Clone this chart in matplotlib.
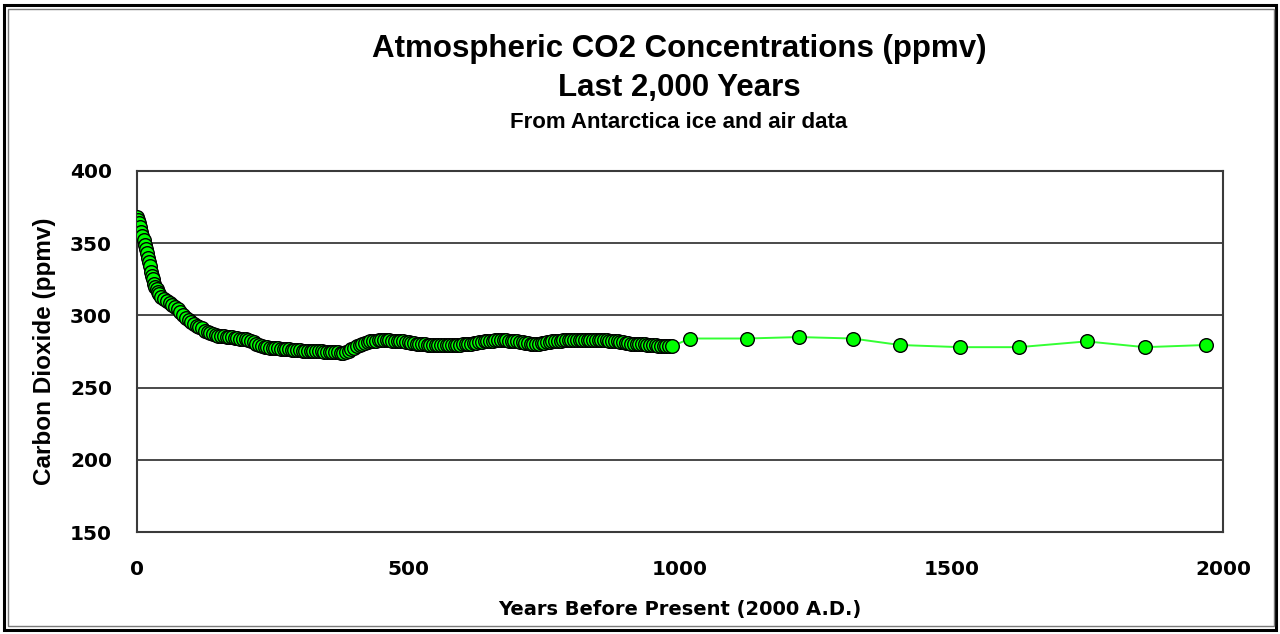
import matplotlib
matplotlib.use("Agg")
import matplotlib.pyplot as plt
from matplotlib.patches import Rectangle

# ---- data ----
years_ice = [
    0, 2, 4, 6, 8, 10, 12, 14, 16, 18, 20, 22, 24, 26, 28, 30, 32, 34, 36, 38, 40,
    45, 50, 55, 60, 65, 70, 75, 80, 85, 90, 95,
    100, 105, 110, 115, 120, 125, 130, 135, 140, 145, 150, 155, 160, 165, 170, 175, 180, 185, 190, 195,
    200, 205, 210, 215, 220, 225, 230, 235, 240, 245, 250, 255, 260, 265, 270, 275, 280, 285, 290, 295,
    300, 305, 310, 315, 320, 325, 330, 335, 340, 345, 350, 355, 360, 365, 370, 375, 380, 385, 390, 395,
    400, 405, 410, 415, 420, 425, 430, 435, 440, 445, 450, 455, 460, 465, 470, 475, 480, 485, 490, 495,
    500, 505, 510, 515, 520, 525, 530, 535, 540, 545, 550, 555, 560, 565, 570, 575, 580, 585, 590, 595,
    600, 605, 610, 615, 620, 625, 630, 635, 640, 645, 650, 655, 660, 665, 670, 675, 680, 685, 690, 695,
    700, 705, 710, 715, 720, 725, 730, 735, 740, 745, 750, 755, 760, 765, 770, 775, 780, 785, 790, 795,
    800, 805, 810, 815, 820, 825, 830, 835, 840, 845, 850, 855, 860, 865, 870, 875, 880, 885, 890, 895,
    900, 905, 910, 915, 920, 925, 930, 935, 940, 945, 950, 955, 960, 965, 970, 975, 980, 985]
co2_ice = [
    368, 366, 364, 361, 358, 355, 352, 349, 346, 343, 340, 337, 334, 330, 327, 325, 322, 320, 318, 316, 315,
    313, 311.5, 310, 308.5, 307.5, 306, 304.5, 302.5, 300.5, 298.5, 297,
    295.5, 294, 293, 292, 291, 289.5, 288.5, 288, 287, 286.5, 286, 285.5, 285.5, 285, 285, 285, 284.5, 284.5, 284, 284,
    283.5, 283, 282.5, 281.5, 280.5, 279.5, 278.5, 278, 278, 277.5, 277.5, 277.5, 277.5, 277, 277, 276.5, 276.5, 276, 276, 276,
    276, 275.5, 275.5, 275.5, 275.5, 275.5, 275.5, 275.5, 275.5, 275, 275, 275, 275, 274.5, 274.5, 274, 274, 274.5, 275.5, 276.5,
    277.5, 278.5, 279.5, 280.5, 281, 281.5, 282, 282.5, 282.5, 283, 283, 283, 283, 283, 282.5, 282.5, 282, 282, 282, 281.5,
    281.5, 281, 281, 280.5, 280.5, 280, 280, 279.5, 279.5, 279.5, 279.5, 279.5, 279.5, 279.5, 279.5, 279.5, 279.5, 279.5, 279.5, 279.5,
    280, 280, 280.5, 280.5, 281, 281, 281.5, 281.5, 282, 282, 282.5, 282.5, 283, 283, 283, 283, 283, 282.5, 282.5, 282,
    282, 281.5, 281.5, 281, 281, 280.5, 280.5, 280.5, 280.5, 281, 281, 281.5, 281.5, 282, 282, 282.5, 282.5, 283, 283, 283,
    283, 283, 283, 283, 283, 283, 283, 283, 283, 283, 283, 283, 283, 283, 282.5, 282.5, 282, 282, 281.5, 281.5,
    281, 281, 280.5, 280.5, 280, 280, 280, 280, 279.5, 279.5, 279.5, 279.5, 279, 279, 279, 279, 278.5, 278.5]
years_old = [1018, 1123, 1219, 1318, 1405, 1516, 1624, 1749, 1856, 1968]
co2_old = [284, 284, 285, 284, 279.5, 278, 278, 282, 278, 279.5]

x_ticks = [0, 500, 1000, 1500, 2000]
y_ticks = [150, 200, 250, 300, 350, 400]

years_all = years_ice + years_old
co2_all = co2_ice + co2_old

# ---- figure ----
fig = plt.figure(figsize=(12.8, 6.34), dpi=100)
fig.patch.set_facecolor("white")

# outer double border
fig.add_artist(Rectangle((4 / 1280, 4 / 634), 1272 / 1280, 625 / 634,
                         transform=fig.transFigure, fill=False,
                         edgecolor="black", linewidth=2.2))
fig.add_artist(Rectangle((8 / 1280, 8 / 634), 1266 / 1280, 617 / 634,
                         transform=fig.transFigure, fill=False,
                         edgecolor="#7a7a7a", linewidth=1.0))

ax = fig.add_axes([137 / 1280, 102 / 634, 1086 / 1280, 361 / 634])
ax.set_xlim(0, 2000)
ax.set_ylim(150, 400)
ax.set_xticks(x_ticks)
ax.set_yticks(y_ticks)
ax.grid(axis="y", color="#3a3a3a", linewidth=1.3)
ax.set_axisbelow(True)
for s in ax.spines.values():
    s.set_color("#3a3a3a")
    s.set_linewidth(1.5)

ax.tick_params(length=0, labelsize=14.5, pad=18)
for lab in ax.get_xticklabels() + ax.get_yticklabels():
    lab.set_fontfamily("DejaVu Sans")
    lab.set_fontweight("bold")
ax.tick_params(axis="x", pad=20)

ax.plot(years_all, co2_all, color="#33ff33", linewidth=1.4,
        marker="o", markersize=9.8, markerfacecolor="#00ff00",
        markeredgecolor="black", markeredgewidth=1.0, zorder=3)

ax.set_xlabel("Years Before Present (2000 A.D.)", fontsize=14,
              fontfamily="DejaVu Sans", fontweight="bold", labelpad=15)
ax.set_ylabel("Carbon Dioxide (ppmv)", fontsize=17.5,
              fontfamily="Liberation Sans", fontweight="bold", labelpad=10)

fig.text(679 / 1280, 1 - 49 / 634, "Atmospheric CO2 Concentrations (ppmv)",
         ha="center", va="center", fontsize=22.5, fontweight="bold",
         fontfamily="Liberation Sans")
fig.text(679 / 1280, 1 - 88 / 634, "Last 2,000 Years",
         ha="center", va="center", fontsize=22.5, fontweight="bold",
         fontfamily="Liberation Sans")
fig.text(679 / 1280, 1 - 123 / 634, "From Antarctica ice and air data",
         ha="center", va="center", fontsize=16, fontweight="bold",
         fontfamily="Liberation Sans")

fig.savefig("out.png", dpi=100, facecolor="white")
